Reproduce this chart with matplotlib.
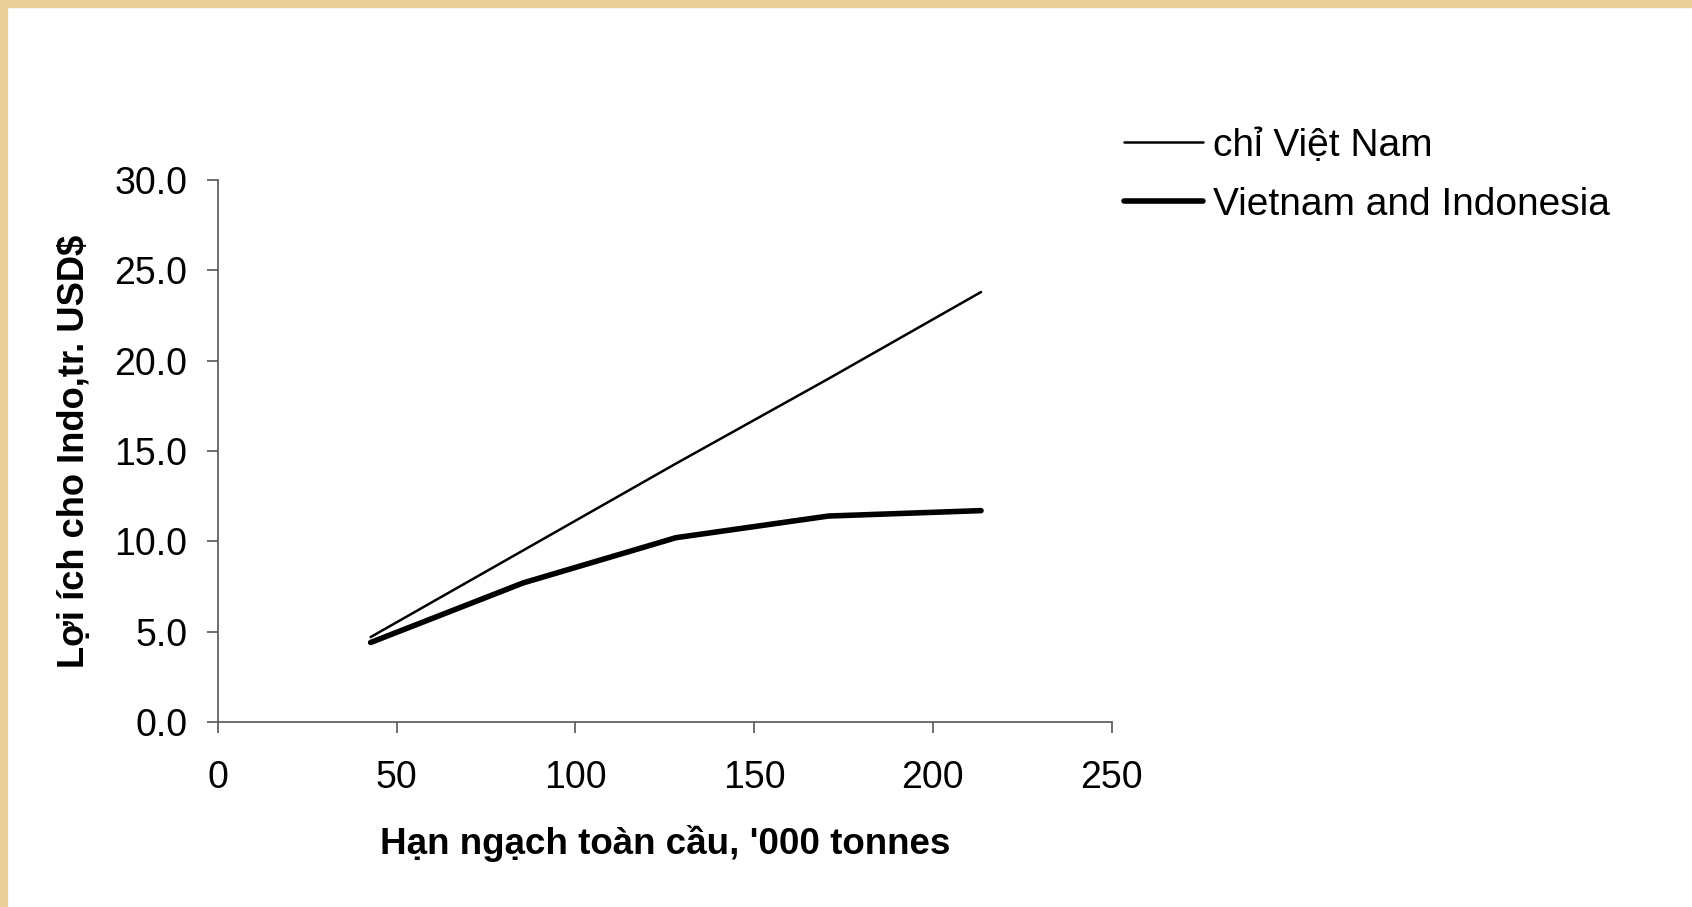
import numpy as np
import matplotlib.pyplot as plt
from matplotlib.patches import Rectangle

plt.rcParams['font.family'] = ['Liberation Sans', 'DejaVu Sans']

# data
quota = [42.7, 85.4, 128.1, 170.8, 213.5]
vn_only = [4.7, 9.5, 14.3, 19.0, 23.8]
vn_indo = [4.4, 7.7, 10.2, 11.4, 11.7]
labels = ['chỉ Việt Nam', 'Vietnam and Indonesia']
xticks = [0, 50, 100, 150, 200, 250]
yticks = [0, 5, 10, 15, 20, 25, 30]

fig = plt.figure(figsize=(16.92, 9.07), dpi=100)
fig.patch.set_facecolor('white')

# beige border strips at top and left
beige = '#E8CF98'
fig.add_artist(Rectangle((0, 1 - 7 / 907), 1, 7 / 907, transform=fig.transFigure,
                         color=beige, zorder=0))
fig.add_artist(Rectangle((0, 0), 7 / 1692, 1, transform=fig.transFigure,
                         color=beige, zorder=0))

ax = fig.add_axes([218 / 1692, 1 - 722 / 907, (1111.5 - 218) / 1692, (722 - 180) / 907])

l1, = ax.plot(quota, vn_only, color='black', lw=1.8, solid_capstyle='round')
l2, = ax.plot(quota, vn_indo, color='black', lw=4, solid_capstyle='round')

ax.set_xlim(0, 250)
ax.set_ylim(0, 30)
ax.set_xticks(xticks)
ax.set_yticks(yticks)
ax.set_yticklabels([f'{v:.1f}' for v in yticks])

for s in ['top', 'right']:
    ax.spines[s].set_visible(False)
for s in ['left', 'bottom']:
    ax.spines[s].set_color('#555555')
    ax.spines[s].set_linewidth(1.2)

ax.tick_params(axis='both', direction='out', length=8, width=1.2, color='#555555',
               labelsize=27)
ax.tick_params(axis='x', pad=19)
ax.tick_params(axis='y', pad=14)

ax.set_xlabel("Hạn ngạch toàn cầu, '000 tonnes", fontsize=26.5, fontweight='bold', labelpad=21)
ax.set_ylabel('Lợi ích cho Indo,tr. USD$', fontsize=26.2, fontweight='bold', labelpad=16)

fig.legend([l1, l2], labels, loc='upper left', bbox_to_anchor=(1108 / 1692, 1 - 112 / 907),
           frameon=False, fontsize=28, handlelength=2.05, handletextpad=0.25,
           labelspacing=0.6, borderaxespad=0)

fig.savefig('out.png', dpi=100)
